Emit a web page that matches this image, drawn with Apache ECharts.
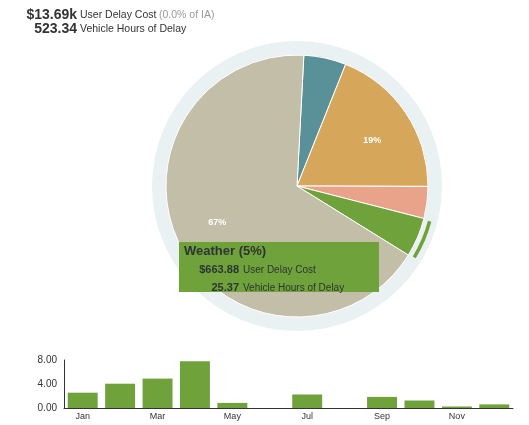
<!DOCTYPE html>
<html>
<head>
<meta charset="utf-8">
<script src="https://cdn.jsdelivr.net/npm/echarts@6/dist/echarts.min.js"></script>
<style>
  html, body { margin: 0; padding: 0; background: #fff; }
  #main { width: 529px; height: 425px; }
</style>
</head>
<body>
<div id="main"></div>
<script>
// delay causes (pie), cost in $ and vehicle hours
var causes = ['Incident', 'Recurring', 'Work Zone', 'Weather', 'Other'];
var causeColors = ['#5a9199', '#d6a75b', '#e9a38b', '#6fa23a', '#c2bea8'];
var delayCost = [715, 2600, 540, 663.88, 9171.12];
var delayHours = [27.4, 99.4, 20.6, 25.37, 350.57];
var selectedCause = 3;

// monthly vehicle hours for the selected cause
var months = ['Jan', 'Feb', 'Mar', 'Apr', 'May', 'Jun', 'Jul', 'Aug', 'Sep', 'Oct', 'Nov', 'Dec'];
var monthlyHours = [2.55, 4.05, 4.9, 7.8, 0.85, 0, 2.25, 0, 1.85, 1.25, 0.25, 0.6];
var yTicks = [0, 4, 8];

var FONT = '"Liberation Sans", Arial, sans-serif';
var CX = 297, CY = 186, R = 131;

var chart = echarts.init(document.getElementById('main'), null, { renderer: 'canvas' });

function sum(a) {
	return a.reduce(function (s, v) { return s + v; }, 0);
}
var totalCost = sum(delayCost);
var totalHours = sum(delayHours);

var pieData = causes.map(function (name, i) {
	return { name: name, value: delayCost[i], hours: delayHours[i], itemStyle: { color: causeColors[i] } };
});
var arcData = causes.map(function (name, i) {
	return {
		name: name,
		value: delayCost[i],
		itemStyle: { color: i === selectedCause ? causeColors[i] : 'rgba(0,0,0,0)' }
	};
});

var option = {
	animation: false,
	textStyle: { fontFamily: FONT },
	graphic: [
		{ type: 'text', x: 77, y: 15, style: { text: '$' + (totalCost / 1000).toFixed(2) + 'k', font: 'bold 14px ' + FONT, fill: '#333', align: 'right', verticalAlign: 'middle' } },
		{ type: 'text', x: 80, y: 15, style: { text: 'User Delay Cost', font: '10.5px ' + FONT, fill: '#333', align: 'left', verticalAlign: 'middle' } },
		{ type: 'text', x: 159, y: 15, style: { text: '(0.0% of IA)', font: '10.5px ' + FONT, fill: '#999', align: 'left', verticalAlign: 'middle' } },
		{ type: 'text', x: 77, y: 29, style: { text: totalHours.toFixed(2), font: 'bold 14px ' + FONT, fill: '#333', align: 'right', verticalAlign: 'middle' } },
		{ type: 'text', x: 80, y: 29, style: { text: 'Vehicle Hours of Delay', font: '10.5px ' + FONT, fill: '#333', align: 'left', verticalAlign: 'middle' } }
	],
	tooltip: {
		trigger: 'item',
		triggerOn: 'none',
		alwaysShowContent: true,
		position: [179, 242],
		padding: 0,
		borderWidth: 0,
		backgroundColor: '#6fa23a',
		extraCssText: 'box-shadow:none;border-radius:0;width:200px;height:50px;',
		formatter: function (p) {
			var d = p.data;
			var num = 'display:inline-block;width:60px;text-align:right;font-weight:bold;font-size:11px;';
			var lab = 'font-size:10px;margin-left:4px;';
			return '<div style="font-family:' + FONT.replace(/"/g, "'") + ';color:#2e3436;line-height:16px;">' +
				'<div style="font-weight:bold;font-size:13px;line-height:18px;padding:0 0 0 5px;">' + p.name + ' (' + Math.round(p.percent) + '%)</div>' +
				'<div><span style="' + num + '">$' + d.value.toFixed(2) + '</span><span style="' + lab + '">User Delay Cost</span></div>' +
				'<div><span style="' + num + '">' + d.hours.toFixed(2) + '</span><span style="' + lab + '">Vehicle Hours of Delay</span></div>' +
				'</div>';
		}
	},
	grid: { left: 64, right: 16, top: 360, bottom: 17 },
	xAxis: {
		type: 'category',
		data: months,
		axisTick: { show: false },
		axisLine: { lineStyle: { color: '#333' } },
		axisLabel: { interval: 1, fontSize: 9, color: '#333', margin: 4 }
	},
	yAxis: {
		type: 'value',
		min: yTicks[0],
		max: yTicks[yTicks.length - 1],
		interval: yTicks[1] - yTicks[0],
		splitLine: { show: false },
		axisTick: { show: false },
		axisLine: { show: true, lineStyle: { color: '#333' } },
		axisLabel: { fontSize: 10, color: '#333', margin: 7, formatter: function (v) { return v.toFixed(2); } }
	},
	series: [
		{
			type: 'pie',
			center: [CX, CY],
			radius: [R, 145],
			silent: true,
			tooltip: { show: false },
			label: { show: false },
			data: [{ value: 1, itemStyle: { color: '#e9f1f2' } }]
		},
		{
			name: 'delay',
			type: 'pie',
			center: [CX, CY],
			radius: [0, R],
			startAngle: 87,
			itemStyle: { borderColor: '#fff', borderWidth: 1 },
			emphasis: { disabled: true },
			label: {
				show: true,
				position: 'inside',
				color: '#fff',
				fontSize: 9,
				fontWeight: 'bold',
				formatter: function (p) { return p.percent >= 10 ? Math.round(p.percent) + '%' : ''; }
			},
			labelLayout: function (p) {
				// push the percent labels out to ~2/3 of the radius, turned a little clockwise
				var r = p.labelRect;
				var dx = (r.x + r.width / 2 - CX) * 1.28, dy = (r.y + r.height / 2 - CY) * 1.28;
				var t = 3 * Math.PI / 180;
				return {
					x: CX + dx * Math.cos(t) - dy * Math.sin(t),
					y: CY + dx * Math.sin(t) + dy * Math.cos(t),
					align: 'center',
					verticalAlign: 'middle'
				};
			},
			data: pieData
		},
		{
			type: 'pie',
			center: [CX, CY],
			radius: [135.5, 139],
			startAngle: 87,
			padAngle: 1,
			silent: true,
			tooltip: { show: false },
			label: { show: false },
			data: arcData
		},
		{
			type: 'bar',
			data: monthlyHours,
			barCategoryGap: '20%',
			itemStyle: { color: '#6fa23a' },
			tooltip: { show: false }
		}
	]
};

chart.setOption(option);
chart.dispatchAction({ type: 'showTip', seriesIndex: 1, dataIndex: selectedCause });
</script>
</body>
</html>
